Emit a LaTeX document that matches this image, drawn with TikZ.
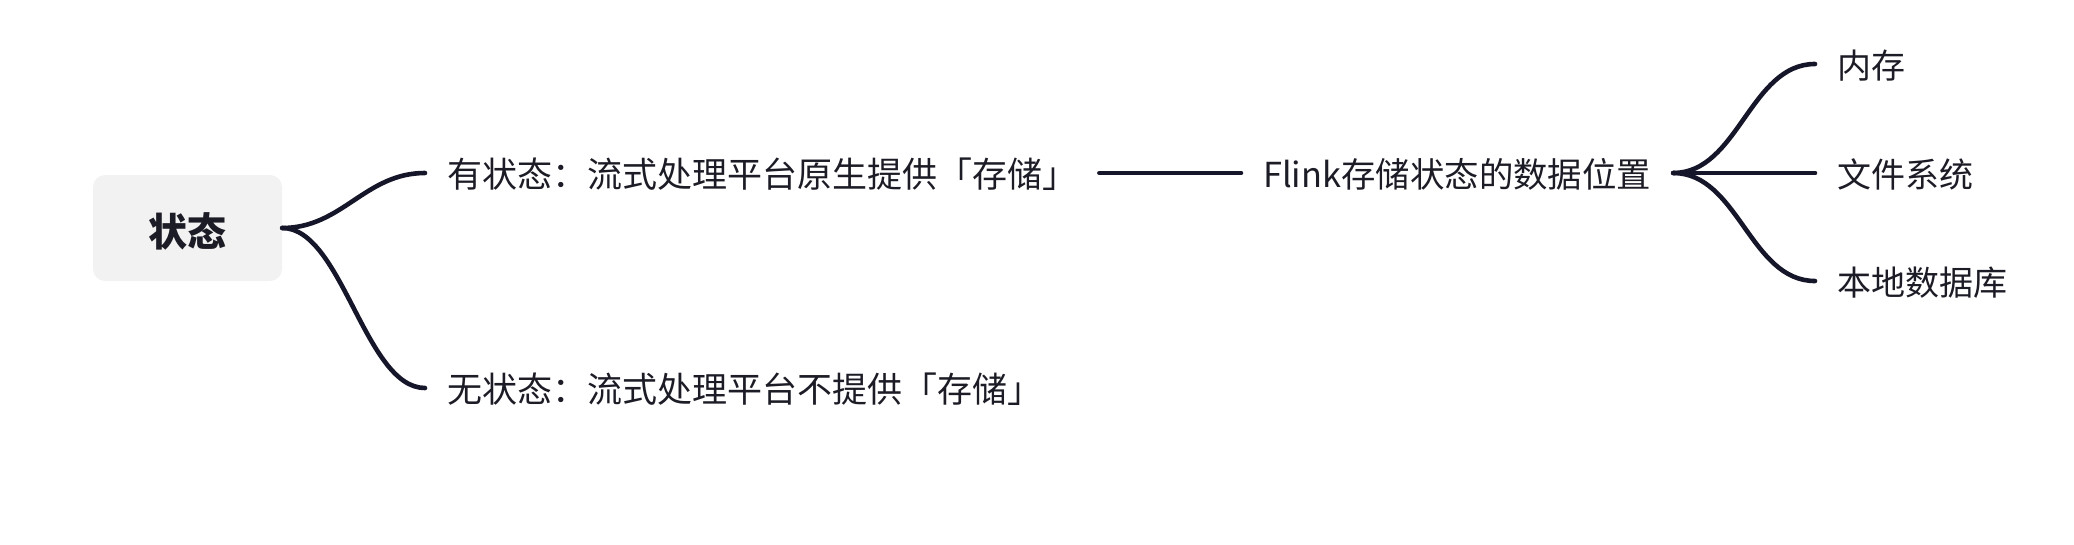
\documentclass[tikz,border=0pt]{standalone}
\usepackage{fontspec}
\newfontfamily\cjk{Noto Sans CJK SC}
\definecolor{linec}{RGB}{22,22,42}
\definecolor{textc}{RGB}{28,28,38}
\definecolor{boxc}{RGB}{242,242,242}
\begin{document}
\begin{tikzpicture}[x=1pt,y=-1pt,
  conn/.style={draw=linec,line width=4.6pt,line cap=round},
  rootbox/.style={fill=boxc,rounded corners=12pt,minimum width=189pt,minimum height=106pt,inner sep=0pt,text height=36pt,text depth=0pt,text=textc,font=\cjk\bfseries\fontsize{39}{45}\selectfont},
  leaf/.style={anchor=west,inner xsep=22pt,inner ysep=0pt,text height=29pt,text depth=0pt,text=textc,font=\cjk\fontsize{34}{40}\selectfont},
  bigleaf/.style={leaf,font=\cjk\fontsize{35}{41}\selectfont}]
\useasboundingbox (0,0) rectangle (2074,544);
\node[rootbox] (root) at (187.5,228) {状态};
\node[bigleaf] (a) at (425,173) {有状态：流式处理平台原生提供「存储」};
\node[bigleaf] (b) at (425,388) {无状态：流式处理平台不提供「存储」};
\node[leaf,font=\cjk\fontsize{34.4}{40}\selectfont] (f) at (1241,173) {Flink存储状态的数据位置};
\node[leaf] (m1) at (1815,64) {内存};
\node[leaf] (m2) at (1815,173) {文件系统};
\node[leaf] (m3) at (1815,281) {本地数据库};
\draw[conn] (root.east) .. controls +(60,0) and +(-60,0) .. (a.west);
\draw[conn] (root.east) .. controls +(60,0) and +(-60,0) .. (b.west);
\draw[conn] (a.east) -- (f.west);
\draw[conn] (f.east) .. controls +(65,0) and +(-65,0) .. (m1.west);
\draw[conn] (f.east) -- (m2.west);
\draw[conn] (f.east) .. controls +(65,0) and +(-65,0) .. (m3.west);
\end{tikzpicture}
\end{document}
